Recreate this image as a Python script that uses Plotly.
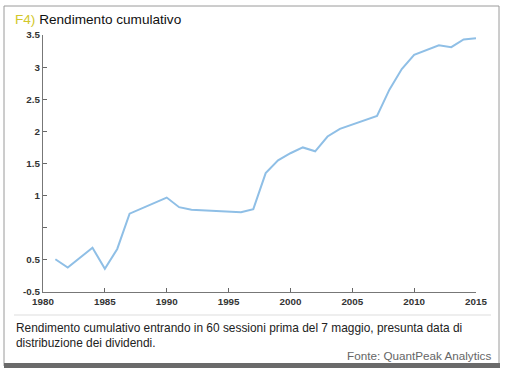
import plotly.graph_objects as go

years = [1981, 1982, 1984, 1985, 1986, 1987, 1990, 1991, 1992, 1996, 1997, 1998, 1999,
         2000, 2001, 2002, 2003, 2004, 2007, 2008, 2009, 2010, 2012, 2013, 2014, 2015]
values = [0.01, -0.12, 0.19, -0.14, 0.17, 0.72, 0.97, 0.82, 0.78, 0.74, 0.79, 1.35, 1.55,
          1.66, 1.75, 1.69, 1.92, 2.04, 2.24, 2.65, 2.97, 3.19, 3.34, 3.31, 3.43, 3.45]

y_tickvals = [-0.5, 0, 0.5, 1, 1.5, 2, 2.5, 3, 3.5]
y_ticktext = ["-0.5", "0.5", "", "1", "1.5", "2", "2.5", "3", "3.5"]
x_tickvals = [1980, 1985, 1990, 1995, 2000, 2005, 2010, 2015]

W, H = 510, 379
L, R, T, B = 43, 476, 35, 292


def px(x):
    return (x - L) / (R - L)


def py(y):
    return (B - y) / (B - T)


tick_font = dict(family="Liberation Sans Narrow, Arial Narrow, Liberation Sans, sans-serif",
                 size=9.8, color="#333333", weight="bold")

fig = go.Figure()
fig.add_trace(go.Scatter(x=years, y=values, mode="lines",
                         line=dict(color="#8fbfe6", width=2), showlegend=False,
                         hoverinfo="skip"))

fig.update_layout(
    width=W, height=H,
    margin=dict(l=L, r=W - R, t=T, b=H - B),
    paper_bgcolor="white", plot_bgcolor="white",
    xaxis=dict(range=[1980, 2015], tickvals=x_tickvals, ticks="inside", ticklen=4,
               tickcolor="#666", showline=True, linecolor="#777", linewidth=1.3,
               showgrid=False, zeroline=False, tickfont=tick_font),
    yaxis=dict(range=[-0.5, 3.5], tickvals=y_tickvals, ticktext=y_ticktext,
               ticks="inside", ticklen=4, tickcolor="#666", showline=True,
               linecolor="#777", linewidth=1.3, showgrid=False, zeroline=False,
               tickfont=tick_font),
    shapes=[
        dict(type="rect", xref="paper", yref="paper", x0=px(4), x1=px(499), y0=py(366), y1=py(6),
             line=dict(color="#9a9a9a", width=1), fillcolor="rgba(0,0,0,0)", layer="below"),
        dict(type="rect", xref="paper", yref="paper", x0=px(4), x1=px(500), y0=py(368), y1=py(363),
             line=dict(width=0), fillcolor="#6a6a6a"),
        dict(type="line", xref="paper", yref="paper", x0=px(14), x1=px(491), y0=py(315), y1=py(315),
             line=dict(color="#dddddd", width=1)),
    ],
    annotations=[
        dict(xref="paper", yref="paper", x=px(13), y=py(19), xanchor="left", yanchor="middle",
             showarrow=False,
             text="<span style='color:#d2c82a'>F4)</span> Rendimento cumulativo",
             font=dict(family="Liberation Sans, Arial, sans-serif", size=13.6, color="#111111")),
        dict(xref="paper", yref="paper", x=px(14), y=py(335), xanchor="left", yanchor="middle",
             showarrow=False, align="left",
             text="Rendimento cumulativo entrando in 60 sessioni prima del 7 maggio, presunta data di<br>distribuzione dei dividendi.",
             font=dict(family="Liberation Sans, Arial, sans-serif", size=11.9, color="#222222")),
        dict(xref="paper", yref="paper", x=px(493), y=py(355.5), xanchor="right", yanchor="middle",
             showarrow=False, text="Fonte: QuantPeak Analytics",
             font=dict(family="Liberation Sans, Arial, sans-serif", size=11.7, color="#666666")),
    ],
)

fig.write_html("out.html", config={"displayModeBar": False},
               post_script="document.body.style.margin='0';")
